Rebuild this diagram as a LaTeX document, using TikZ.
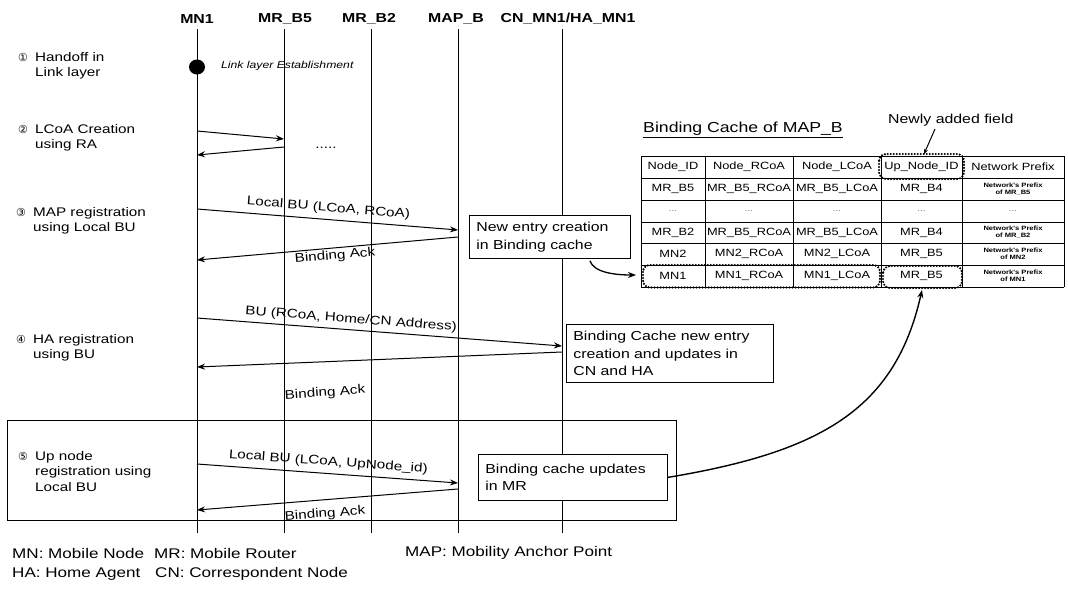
\documentclass[tikz,border=0pt]{standalone}
\usepackage{fontspec}
\setmainfont{Liberation Sans}
\newfontfamily\dv{DejaVu Sans}
\newfontfamily\wf[FakeStretch=1.22]{Liberation Sans}
\usetikzlibrary{arrows.meta,calc}
\tikzset{
  life/.style={line width=0.7pt},
  msg/.style={line width=1pt,-{Stealth[length=8pt,width=6pt]}},
  hdr/.style={font=\wf\bfseries\fontsize{13}{15}\selectfont, inner sep=1pt},
  stp/.style={font=\wf\fontsize{12.5}{15.5}\selectfont, align=left, anchor=north west, inner sep=0pt},
  mlbl/.style={font=\wf\fontsize{12.5}{14}\selectfont, inner sep=0pt},
  note/.style={draw, fill=white, line width=0.8pt, align=left, anchor=north west,
    font=\wf\fontsize{13}{17.5}\selectfont, inner xsep=7pt, inner ysep=3pt},
  hl/.style={line width=2.4pt, dash pattern=on 0pt off 3pt, line cap=round, rounded corners=7pt},
  leg/.style={font=\wf\fontsize{14}{21}\selectfont, anchor=west, inner sep=0pt},
  grid/.style={line width=0.8pt},
  ct/.style={inner sep=0pt, font=\wf\fontsize{10.5}{11}\selectfont},
  tiny/.style={inner sep=0pt, align=center, font=\wf\bfseries\fontsize{6.2}{7}\selectfont},
  dotc/.style={inner sep=0pt, font=\wf\fontsize{8}{9}\selectfont, text=black!60},
}
\newcommand{\cn}[1]{\makebox[17pt][l]{\dv\fontsize{11}{12}\selectfont #1}}
\begin{document}
\begin{tikzpicture}[x=1pt,y=-1pt]
\useasboundingbox (0,0) rectangle (1068,589);

% step 5 frame (behind lifelines)
\draw[line width=0.8pt] (7,420) rectangle (676,520);

% headers and lifelines
\node[hdr] (hMN1) at (197,19) {MN1};
\node[hdr] (hB5) at (285,19) {MR\_B5};
\node[hdr] (hB2) at (369,19) {MR\_B2};
\node[hdr] (hMAP) at (456,19) {MAP\_B};
\node[hdr] (hCN) at (568,19) {CN\_MN1/HA\_MN1};
\coordinate (bMN1) at (197,533);
\coordinate (bB5) at (284,533);
\coordinate (bB2) at (371,533);
\coordinate (bMAP) at (458,533);
\coordinate (bCN) at (562,533);
\draw[life] (197,29) -- (bMN1);
\draw[life] (284,29) -- (bB5);
\draw[life] (371,29) -- (bB2);
\draw[life] (458,29) -- (bMAP);
\draw[life] (562,29) -- (bCN);

% step 1
\fill (197,67) ellipse (8pt and 7.5pt);
\node[font=\wf\itshape\fontsize{10}{12}\selectfont, anchor=west, inner sep=0pt] (lle) at (221,66) {Link layer Establishment};

% step labels
\node[stp] (s1) at (18,52) {\cn{①}Handoff in\\\hspace{17pt}Link layer};
\node[stp] (s2) at (18,124) {\cn{②}LCoA Creation\\\hspace{17pt}using RA};
\node[stp] (s3) at (16,207) {\cn{③}MAP registration\\\hspace{17pt}using Local BU};
\node[stp] (s4) at (16,334) {\cn{④}HA registration\\\hspace{17pt}using BU};
\node[stp] (s5) at (18,451) {\cn{⑤}Up node\\\hspace{17pt}registration using\\\hspace{17pt}Local BU};

% step 2 messages
\coordinate (a1) at (197,131); \coordinate (a2) at (284,139);
\coordinate (a3) at (284,147); \coordinate (a4) at (197,155);
\draw[msg] (a1) -- (a2);
\draw[msg] (a3) -- (a4);
\node[mlbl] (dots) at (326,148) {.....};

% step 3 messages
\coordinate (b1) at (197,209); \coordinate (b2) at (458,230);
\coordinate (b3) at (458,237); \coordinate (b4) at (197,260);
\draw[msg] (b1) -- node[mlbl, above=5pt, sloped] (lb1) {Local BU (LCoA, RCoA)} (b2);
\draw[msg] (b3) -- (b4);
\node[mlbl, rotate=4.8] (lb2) at (335,256) {Binding Ack};

% step 4 messages
\coordinate (c1) at (197,318); \coordinate (c2) at (562,346);
\coordinate (c3) at (562,352); \coordinate (c4) at (197,367);
\draw[msg] (c1) -- node[mlbl, above=4pt, sloped, pos=0.42] (lc1) {BU (RCoA, Home/CN Address)} (c2);
\draw[msg] (c3) -- (c4);
\node[mlbl, rotate=4] (lc2) at (325,393) {Binding Ack};

% step 5 messages
\coordinate (d1) at (197,464); \coordinate (d2) at (458,483);
\coordinate (d3) at (458,489); \coordinate (d4) at (197,510);
\draw[msg] (d1) -- node[mlbl, above=5pt, sloped] (ld1) {Local BU (LCoA, UpNode\_id)} (d2);
\draw[msg] (d3) -- (d4);
\node[mlbl, rotate=4] (ld2) at (325,514) {Binding Ack};

% notes
\node[note, text width=147pt, minimum height=43pt] (n1) at (469,215) {New entry creation\\in Binding cache};
\node[note, text width=193pt, minimum height=58pt] (n2) at (566,324) {Binding Cache new entry\\creation and updates in\\CN and HA};
\node[note, text width=175pt, minimum height=46pt] (n3) at (478,454) {Binding cache updates\\in MR};

% binding cache table
\node[font=\wf\fontsize{14.5}{16}\selectfont, anchor=west, inner sep=0pt] (title) at (643,130) {\underline{Binding Cache of MAP\_B}};
\node[font=\wf\fontsize{13}{15}\selectfont, anchor=west, inner sep=0pt] (newly) at (888,120) {Newly added field};
\foreach \x in {641,705,793,881,962,1064} \draw[grid] (\x,156) -- (\x,287);
\foreach \y in {156,178,200,222,243.5,265,287} \draw[grid] (641,\y) -- (1064,\y);
% header row
\node[ct] (t11) at (673,167) {Node\_ID};
\node[ct] (t12) at (749,167) {Node\_RCoA};
\node[ct] (t13) at (837,167) {Node\_LCoA};
\node[ct] (t14) at (921.5,167) {Up\_Node\_ID};
\node[ct] (t15) at (1013,167) {Network Prefix};
% row 2
\node[ct] (t21) at (673,189) {MR\_B5};
\node[ct] (t22) at (749,189) {MR\_B5\_RCoA};
\node[ct] (t23) at (837,189) {MR\_B5\_LCoA};
\node[ct] (t24) at (921.5,189) {MR\_B4};
\node[tiny] (t25) at (1013,189) {Network's Prefix\\of MR\_B5};
% row 3
\node[dotc] (t31) at (673,211) {...};
\node[dotc] (t32) at (749,211) {...};
\node[dotc] (t33) at (837,211) {...};
\node[dotc] (t34) at (921.5,211) {...};
\node[dotc] (t35) at (1013,211) {...};
% row 4
\node[ct] (t41) at (673,232.5) {MR\_B2};
\node[ct] (t42) at (749,232.5) {MR\_B5\_RCoA};
\node[ct] (t43) at (837,232.5) {MR\_B5\_LCoA};
\node[ct] (t44) at (921.5,232.5) {MR\_B4};
\node[tiny] (t45) at (1013,232.5) {Network's Prefix\\of MR\_B2};
% row 5
\node[ct] (t51) at (673,254) {MN2};
\node[ct] (t52) at (749,254) {MN2\_RCoA};
\node[ct] (t53) at (837,254) {MN2\_LCoA};
\node[ct] (t54) at (921.5,254) {MR\_B5};
\node[tiny] (t55) at (1013,254) {Network's Prefix\\of MN2};
% row 6
\node[ct] (t61) at (673,276) {MN1};
\node[ct] (t62) at (749,276) {MN1\_RCoA};
\node[ct] (t63) at (837,276) {MN1\_LCoA};
\node[ct] (t64) at (921.5,276) {MR\_B5};
\node[tiny] (t65) at (1013,276) {Network's Prefix\\of MN1};
% dotted highlights
\draw[hl] (879,154) rectangle (964,179);
\draw[hl] (643,265) rectangle (880,287.5);
\draw[hl] (883,266) rectangle (962,288);
\coordinate (hltop) at (924,154);
\coordinate (row6L) at (636,275);
\coordinate (row6B) at (922,290);

% annotation arrows
\coordinate (nfs) at (935,129);
\draw[line width=1pt,-{Stealth[length=5pt,width=4pt]}] (nfs) -- (hltop);
\draw[line width=1.3pt,-{Stealth[length=8pt,width=6pt]}] ($(n1.south)+(40,2)$)
  .. controls +(4,12) and +(-20,0) .. (row6L);
\draw[line width=1.4pt,-{Stealth[length=8pt,width=6pt]}] (n3.east)
  .. controls (820,452) and (895,410) .. (row6B);

% legend
\node[leg] (l1) at (12,553) {MN: Mobile Node};
\node[leg] (l2) at (154,553) {MR: Mobile Router};
\node[leg] (l3) at (405,553) {MAP: Mobility Anchor Point};
\node[leg] (l4) at (12,574) {HA: Home Agent};
\node[leg] (l5) at (155,574) {CN: Correspondent Node};
\end{tikzpicture}
\end{document}
